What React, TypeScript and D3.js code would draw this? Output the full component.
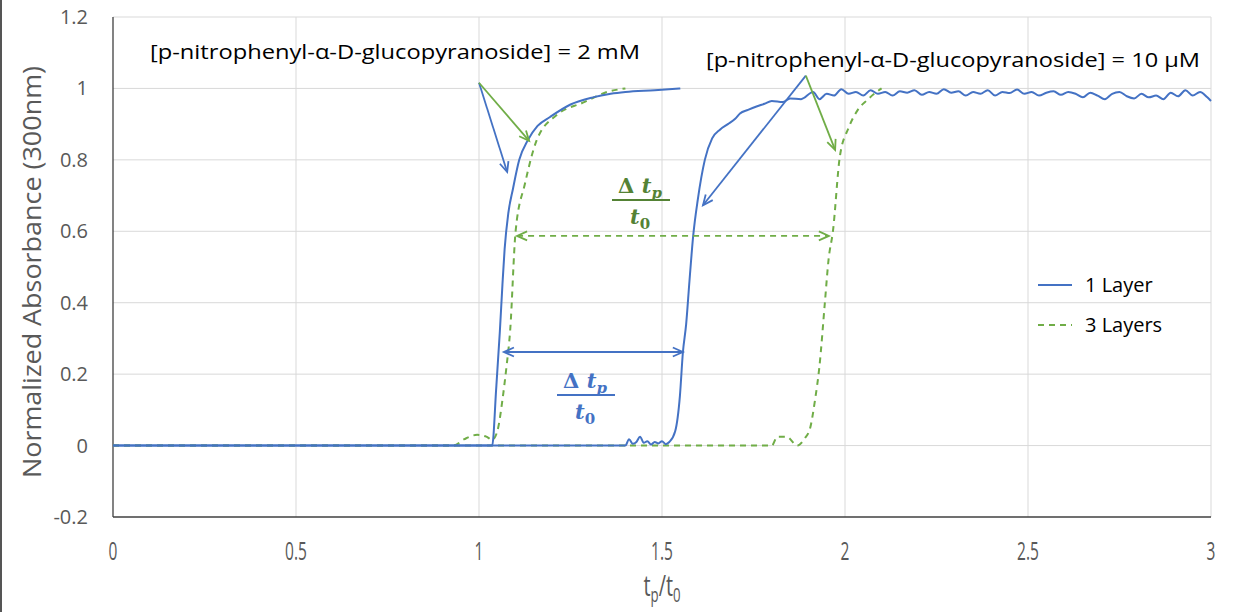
import React from "react";
import * as d3 from "d3";

const W = 1238;
const H = 612;

const xTicks = [0, 0.5, 1, 1.5, 2, 2.5, 3];
const yTicks = [-0.2, 0, 0.2, 0.4, 0.6, 0.8, 1, 1.2];
const xTickLabels = ["0", "0.5", "1", "1.5", "2", "2.5", "3"];
const yTickLabels = ["-0.2", "0", "0.2", "0.4", "0.6", "0.8", "1", "1.2"];

// 1 Layer, 2 mM
const blueA_x = [0, 0.5, 1.0, 1.036, 1.047, 1.057, 1.064, 1.07, 1.08, 1.093, 1.11, 1.134, 1.16, 1.194, 1.25, 1.311, 1.36, 1.4, 1.48, 1.55];
const blueA_y = [0, 0, 0, 0, 0.16, 0.32, 0.45, 0.55, 0.65, 0.72, 0.8, 0.856, 0.895, 0.92, 0.955, 0.975, 0.985, 0.99, 0.995, 1.0];

// 1 Layer, 10 uM
const blueB_x = [0, 0.5, 1.0, 1.4, 1.41, 1.42, 1.43, 1.44, 1.45, 1.46, 1.47, 1.48, 1.49, 1.5, 1.51, 1.52, 1.536, 1.549, 1.557, 1.566, 1.575, 1.585, 1.598, 1.617, 1.637, 1.659, 1.68, 1.7, 1.713, 1.735, 1.76, 1.78, 1.8, 1.83, 1.85, 1.88, 1.913, 1.93, 1.95, 1.97,
  1.99, 2.01, 2.03, 2.05, 2.07, 2.09, 2.11, 2.13, 2.15, 2.17, 2.19, 2.21, 2.23, 2.25, 2.27, 2.29, 2.31, 2.33, 2.35, 2.37, 2.39, 2.41, 2.43, 2.45, 2.47, 2.49, 2.51, 2.53, 2.55, 2.57, 2.59, 2.61, 2.63, 2.65, 2.67, 2.69, 2.71, 2.73, 2.75, 2.77, 2.79, 2.81, 2.83, 2.85, 2.87, 2.89, 2.91, 2.93, 2.95, 2.97, 2.99, 3.0];
const blueB_y = [0, 0, 0, 0, 0.018, 0.005, 0.01, 0.025, 0.008, 0.012, 0.003, 0.01, 0.006, 0.012, 0.004, 0.01, 0.04, 0.14, 0.26, 0.34, 0.46, 0.585, 0.69, 0.8, 0.86, 0.885, 0.9, 0.915, 0.93, 0.94, 0.95, 0.957, 0.965, 0.962, 0.972, 0.97, 0.99, 0.97, 0.985, 0.98,
  0.998, 0.985, 0.99, 0.98, 0.995, 0.985, 0.99, 0.98, 0.992, 0.988, 0.995, 0.982, 0.99, 0.985, 0.998, 0.988, 0.992, 0.98, 0.99, 0.985, 0.995, 0.98, 0.99, 0.987, 0.997, 0.985, 0.99, 0.98, 0.988, 0.992, 0.982, 0.99, 0.985, 0.975, 0.988, 0.98, 0.97, 0.985, 0.99, 0.978, 0.972, 0.985, 0.975, 0.98, 0.97, 0.988, 0.978, 0.995, 0.98, 0.99, 0.975, 0.965];

// 3 Layers, 2 mM
const greenA_x = [0, 0.5, 0.93, 0.96, 0.995, 1.02, 1.036, 1.05, 1.065, 1.075, 1.085, 1.1, 1.126, 1.158, 1.213, 1.284, 1.35, 1.4];
const greenA_y = [0, 0, 0, 0.018, 0.03, 0.025, 0.016, 0.04, 0.135, 0.22, 0.32, 0.6, 0.735, 0.856, 0.926, 0.96, 0.99, 1.0];

// 3 Layers, 10 uM
const greenB_x = [0, 0.5, 1.0, 1.5, 1.8, 1.815, 1.84, 1.87, 1.89, 1.905, 1.918, 1.93, 1.945, 1.955, 1.967, 1.986, 2.01, 2.035, 2.06, 2.08, 2.1];
const greenB_y = [0, 0, 0, 0, 0, 0.025, 0.025, 0, 0.02, 0.05, 0.127, 0.22, 0.4, 0.52, 0.6, 0.81, 0.89, 0.94, 0.967, 0.985, 1.0];

const seriesNames = ["1 Layer", "3 Layers"];
const annotationTexts = ["[p-nitrophenyl-\u03b1-D-glucopyranoside] = 2 mM", "[p-nitrophenyl-\u03b1-D-glucopyranoside] = 10 \u03bcM"];

const BLUE = "#4472C4";
const GREEN = "#70AD47";
const GREEN_TXT = "#548235";
const GRID = "#D9D9D9";
const TICK = "#595959";

const x = d3.scaleLinear().domain([0, 3]).range([113, 1211]);
const y = d3.scaleLinear().domain([-0.2, 1.2]).range([517, 17]);

const line = d3.line<[number, number]>().x((d) => x(d[0])).y((d) => y(d[1])).curve(d3.curveMonotoneX);
const mk = (xs: number[], ys: number[]) => line(xs.map((v, i) => [v, ys[i]] as [number, number])) || "";

function Arrow({ x1, y1, x2, y2, color, dash, start }: { x1: number; y1: number; x2: number; y2: number; color: string; dash?: string; start?: boolean }) {
  const px1 = x(x1), py1 = y(y1), px2 = x(x2), py2 = y(y2);
  const ang = Math.atan2(py2 - py1, px2 - px1);
  const L = 11, A = 0.42;
  const head = (hx: number, hy: number, a: number) =>
    `M${hx - L * Math.cos(a - A)},${hy - L * Math.sin(a - A)}L${hx},${hy}L${hx - L * Math.cos(a + A)},${hy - L * Math.sin(a + A)}`;
  return (
    <g stroke={color} fill="none" strokeWidth={1.8}>
      <line x1={px1} y1={py1} x2={px2} y2={py2} strokeDasharray={dash} />
      <path d={head(px2, py2, ang)} strokeLinejoin="miter" />
      {start && <path d={head(px1, py1, ang + Math.PI)} />}
    </g>
  );
}

function Frac({ cx, cy, color }: { cx: number; cy: number; color: string }) {
  const f = "'DejaVu Serif', serif";
  return (
    <g fill={color} fontFamily={f} fontWeight="bold">
      <text x={cx} y={cy - 7} textAnchor="middle" fontSize={21}>
        <tspan fontStyle="normal">{"\u0394 "}</tspan>
        <tspan fontStyle="italic">t</tspan>
        <tspan fontStyle="italic" fontSize={15} dy={5}>p</tspan>
      </text>
      <line x1={cx - 28} x2={cx + 30} y1={cy} y2={cy} stroke={color} strokeWidth={2} />
      <text x={cx} y={cy + 24} textAnchor="middle" fontSize={21}>
        <tspan fontStyle="italic">t</tspan>
        <tspan fontSize={15} dy={5}>0</tspan>
      </text>
    </g>
  );
}

export default function App() {
  const font = "'Open Sans', 'Liberation Sans', sans-serif";
  return (
    <svg width={W} height={H} style={{ position: "absolute", left: 0, top: 0, background: "#fff" }} fontFamily={font}>
      <rect x={0} y={0} width={W} height={H} fill="#fff" />
      <rect x={0} y={0} width={2} height={H} fill="#555" />
      {/* grid */}
      {xTicks.slice(1).map((t) => (
        <line key={"gx" + t} x1={x(t)} x2={x(t)} y1={y(1.2)} y2={y(-0.2)} stroke={GRID} strokeWidth={1} />
      ))}
      {yTicks.slice(1).map((t) => (
        <line key={"gy" + t} x1={x(0)} x2={x(3)} y1={y(t)} y2={y(t)} stroke={GRID} strokeWidth={1} />
      ))}
      {/* axes */}
      <line x1={x(0)} x2={x(0)} y1={y(1.2)} y2={y(-0.2)} stroke="#404040" strokeWidth={1.3} />
      <line x1={x(0)} x2={x(3)} y1={y(-0.2)} y2={y(-0.2)} stroke="#404040" strokeWidth={1.3} />
      {/* tick labels */}
      {yTicks.map((t, i) => (
        <text key={"yt" + t} x={88} y={y(t) + 7} textAnchor="end" fontSize={20} fill={TICK}>{yTickLabels[i]}</text>
      ))}
      {xTicks.map((t, i) => (
        <text key={"xt" + t} transform={`translate(${x(t)},${560}) scale(0.62,1)`} textAnchor="middle" fontSize={25} fill={TICK}>{xTickLabels[i]}</text>
      ))}
      <text transform={`translate(${x(1.5)},${596}) scale(0.66,1)`} textAnchor="middle" fontSize={30} fill={TICK}>
        t<tspan fontSize={20} dy={6}>p</tspan><tspan dy={-6}>/t</tspan><tspan fontSize={20} dy={6}>0</tspan>
      </text>
      <text transform={`translate(41,${272}) rotate(-90)`} textAnchor="middle" fontSize={25} fill={TICK} textLength={412} lengthAdjust="spacingAndGlyphs">Normalized Absorbance (300nm)</text>

      {/* series */}
      <path d={mk(greenA_x, greenA_y)} fill="none" stroke={GREEN} strokeWidth={2} strokeDasharray="6,5" />
      <path d={mk(greenB_x, greenB_y)} fill="none" stroke={GREEN} strokeWidth={2} strokeDasharray="6,5" />
      <path d={mk(blueA_x, blueA_y)} fill="none" stroke={BLUE} strokeWidth={2} />
      <path d={mk(blueB_x, blueB_y)} fill="none" stroke={BLUE} strokeWidth={2} />

      {/* annotations */}
      <text x={150} y={59} fontSize={20} fill="#000" textLength={490} lengthAdjust="spacingAndGlyphs">{annotationTexts[0]}</text>
      <text x={706} y={67} fontSize={20} fill="#000" textLength={494} lengthAdjust="spacingAndGlyphs">{annotationTexts[1]}</text>
      <Arrow x1={1.0} y1={1.016} x2={1.077} y2={0.766} color={BLUE} />
      <Arrow x1={1.0} y1={1.016} x2={1.137} y2={0.853} color={GREEN} />
      <Arrow x1={1.893} y1={1.036} x2={1.612} y2={0.673} color={BLUE} />
      <Arrow x1={1.893} y1={1.036} x2={1.973} y2={0.828} color={GREEN} />
      <Arrow x1={1.104} y1={0.587} x2={1.956} y2={0.587} color={GREEN} dash="6,5" start />
      <Arrow x1={1.068} y1={0.262} x2={1.557} y2={0.262} color={BLUE} start />
      <Frac cx={640} cy={200} color={GREEN_TXT} />
      <Frac cx={585} cy={395} color={BLUE} />

      {/* legend */}
      <line x1={1038} x2={1072} y1={285} y2={285} stroke={BLUE} strokeWidth={2} />
      <text x={1085} y={292} fontSize={20} fill="#000">{seriesNames[0]}</text>
      <line x1={1038} x2={1072} y1={325} y2={325} stroke={GREEN} strokeWidth={2} strokeDasharray="6,5" />
      <text x={1085} y={332} fontSize={20} fill="#000">{seriesNames[1]}</text>
    </svg>
  );
}
